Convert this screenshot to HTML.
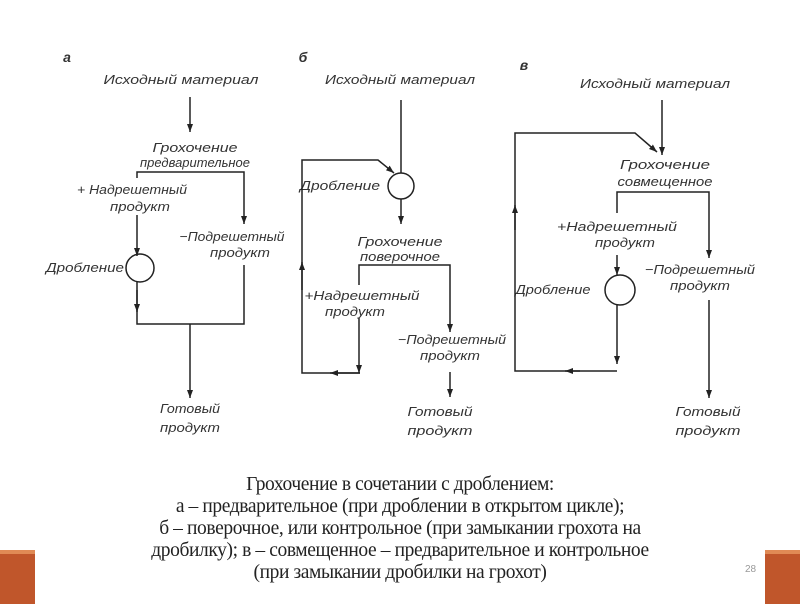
<!DOCTYPE html>
<html><head><meta charset="utf-8"><style>
html,body{margin:0;padding:0;background:#fff;width:800px;height:600px;overflow:hidden}
.cap{position:absolute;left:0;width:800px;text-align:center;font-family:"Liberation Serif",serif;font-size:19.5px;color:#222;letter-spacing:-0.4px}
</style></head><body>
<div style="position:absolute;left:0;top:550px;width:35px;height:50px;background:#c0562b;border-top:4px solid #e08a55"></div>
<div style="position:absolute;left:765px;top:550px;width:35px;height:50px;background:#c0562b;border-top:4px solid #e08a55"></div>
<svg width="800" height="600" style="position:absolute;left:0;top:0" xmlns="http://www.w3.org/2000/svg">
<defs><marker id="a" markerWidth="10" markerHeight="8" refX="8" refY="4" orient="auto" markerUnits="userSpaceOnUse"><path d="M0,1 L8,4 L0,7 Z" fill="#222"/></marker></defs>
<g font-family="Liberation Sans, sans-serif" font-style="italic" font-size="13" fill="#333" text-anchor="middle">
<text x="67" y="62" font-size="14" font-weight="bold">а</text>
<text x="181" y="84" textLength="155" lengthAdjust="spacingAndGlyphs">Исходный материал</text>
<text x="195" y="152" textLength="85" lengthAdjust="spacingAndGlyphs">Грохочение</text>
<text x="195" y="167" textLength="110" lengthAdjust="spacingAndGlyphs">предварительное</text>
<text x="132" y="194" textLength="110" lengthAdjust="spacingAndGlyphs">+ Надрешетный</text>
<text x="140" y="211" textLength="60" lengthAdjust="spacingAndGlyphs">продукт</text>
<text x="232" y="241" textLength="105" lengthAdjust="spacingAndGlyphs">−Подрешетный</text>
<text x="240" y="257" textLength="60" lengthAdjust="spacingAndGlyphs">продукт</text>
<text x="85" y="272" textLength="78" lengthAdjust="spacingAndGlyphs">Дробление</text>
<text x="190" y="413" textLength="60" lengthAdjust="spacingAndGlyphs">Готовый</text>
<text x="190" y="432" textLength="60" lengthAdjust="spacingAndGlyphs">продукт</text>

<text x="303" y="62" font-size="14" font-weight="bold">б</text>
<text x="400" y="84" textLength="150" lengthAdjust="spacingAndGlyphs">Исходный материал</text>
<text x="340" y="190" textLength="80" lengthAdjust="spacingAndGlyphs">Дробление</text>
<text x="400" y="246" textLength="85" lengthAdjust="spacingAndGlyphs">Грохочение</text>
<text x="400" y="261" textLength="80" lengthAdjust="spacingAndGlyphs">поверочное</text>
<text x="362" y="300" textLength="115" lengthAdjust="spacingAndGlyphs">+Надрешетный</text>
<text x="355" y="316" textLength="60" lengthAdjust="spacingAndGlyphs">продукт</text>
<text x="452" y="344" textLength="108" lengthAdjust="spacingAndGlyphs">−Подрешетный</text>
<text x="450" y="360" textLength="60" lengthAdjust="spacingAndGlyphs">продукт</text>
<text x="440" y="416" textLength="65" lengthAdjust="spacingAndGlyphs">Готовый</text>
<text x="440" y="435" textLength="65" lengthAdjust="spacingAndGlyphs">продукт</text>

<text x="524" y="70" font-size="14" font-weight="bold">в</text>
<text x="655" y="88" textLength="150" lengthAdjust="spacingAndGlyphs">Исходный материал</text>
<text x="665" y="169" textLength="90" lengthAdjust="spacingAndGlyphs">Грохочение</text>
<text x="665" y="186" textLength="95" lengthAdjust="spacingAndGlyphs">совмещенное</text>
<text x="617" y="231" textLength="120" lengthAdjust="spacingAndGlyphs">+Надрешетный</text>
<text x="625" y="247" textLength="60" lengthAdjust="spacingAndGlyphs">продукт</text>
<text x="700" y="274" textLength="110" lengthAdjust="spacingAndGlyphs">−Подрешетный</text>
<text x="700" y="290" textLength="60" lengthAdjust="spacingAndGlyphs">продукт</text>
<text x="553" y="294" textLength="75" lengthAdjust="spacingAndGlyphs">Дробление</text>
<text x="708" y="416" textLength="65" lengthAdjust="spacingAndGlyphs">Готовый</text>
<text x="708" y="435" textLength="65" lengthAdjust="spacingAndGlyphs">продукт</text>
</g>
<g stroke="#222" stroke-width="1.5" fill="none">
<line x1="190" y1="97" x2="190" y2="132" marker-end="url(#a)"/>
<polyline points="137,178 137,172 244,172 244,224" marker-end="url(#a)"/>
<line x1="137" y1="215" x2="137" y2="256" marker-end="url(#a)"/>
<circle cx="140" cy="268" r="14"/>
<polyline points="137,282 137,324 244,324 244,265"/>
<line x1="137" y1="290" x2="137" y2="312" marker-end="url(#a)"/>
<line x1="190" y1="324" x2="190" y2="398" marker-end="url(#a)"/>
<line x1="401" y1="100" x2="401" y2="173"/>
<circle cx="401" cy="186" r="13"/>
<polyline points="360,373 302,373 302,160 378,160 394,173" marker-end="url(#a)"/>
<line x1="302" y1="290" x2="302" y2="262" marker-end="url(#a)"/>
<line x1="360" y1="373" x2="330" y2="373" marker-end="url(#a)"/>
<line x1="401" y1="199" x2="401" y2="224" marker-end="url(#a)"/>
<polyline points="359,285 359,265 450,265 450,332" marker-end="url(#a)"/>
<line x1="359" y1="318" x2="359" y2="373" marker-end="url(#a)"/>
<line x1="450" y1="372" x2="450" y2="397" marker-end="url(#a)"/>
<line x1="662" y1="100" x2="662" y2="155" marker-end="url(#a)"/>
<polyline points="617,371 515,371 515,133 635,133 657,152" marker-end="url(#a)"/>
<line x1="515" y1="230" x2="515" y2="205" marker-end="url(#a)"/>
<line x1="580" y1="371" x2="565" y2="371" marker-end="url(#a)"/>
<polyline points="617,213 617,192 709,192 709,258" marker-end="url(#a)"/>
<line x1="617" y1="255" x2="617" y2="275" marker-end="url(#a)"/>
<circle cx="620" cy="290" r="15"/>
<line x1="617" y1="305" x2="617" y2="364" marker-end="url(#a)"/>
<line x1="709" y1="300" x2="709" y2="398" marker-end="url(#a)"/>
</g>
<text x="745" y="572" font-family="Liberation Sans, sans-serif" font-size="10" fill="#999">28</text>
</svg>
<div class="cap" style="top:474px">Грохочение в сочетании с дроблением:</div>
<div class="cap" style="top:496px">а – предварительное (при дроблении в открытом цикле);</div>
<div class="cap" style="top:518px">б – поверочное, или контрольное (при замыкании грохота на</div>
<div class="cap" style="top:540px">дробилку); в – совмещенное – предварительное и контрольное</div>
<div class="cap" style="top:562px">(при замыкании дробилки на грохот)</div>
</body></html>
